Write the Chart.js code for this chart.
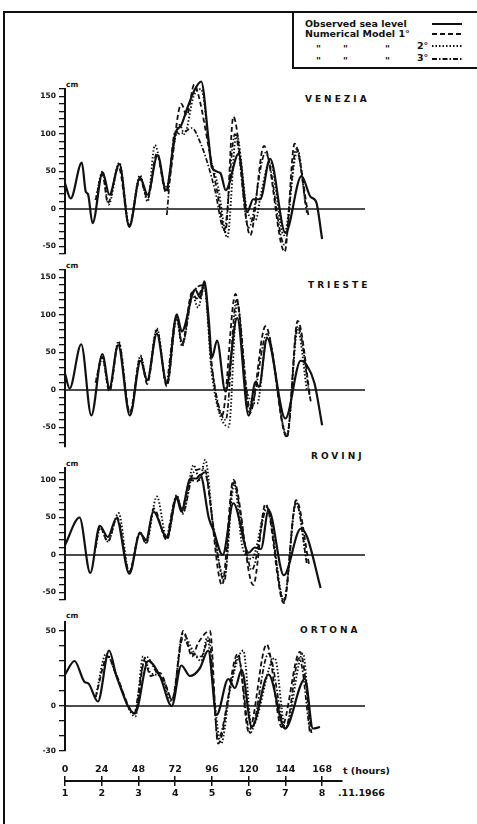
<!DOCTYPE html>
<html>
<head>
<meta charset="utf-8">
<script src="https://cdn.jsdelivr.net/npm/chart.js@4.4.1/dist/chart.umd.min.js"></script>
<style>
html,body{margin:0;padding:0;background:#fff;}
body{width:477px;height:824px;position:relative;overflow:hidden;font-family:"DejaVu Sans",sans-serif;font-weight:bold;color:#111;}
canvas{position:absolute;left:0;}
.t{position:absolute;white-space:nowrap;line-height:1;}
.stn{font-size:9px;letter-spacing:3px;}
.cm{font-size:7.5px;}
.lg{font-size:9.5px;}
.ln{position:absolute;background:#111;}
</style>
</head>
<body>
<!-- frame -->
<div class="ln" style="left:3px;top:11px;width:2px;height:813px;"></div>
<div class="ln" style="left:3px;top:11px;width:474px;height:2px;"></div>
<div class="ln" style="left:292px;top:11px;width:2px;height:58px;"></div>
<div class="ln" style="left:292px;top:67px;width:185px;height:2px;"></div>

<!-- legend -->
<div class="t lg" style="left:305px;top:19px;">Observed sea level</div>
<div class="t lg" style="left:305px;top:29px;">Numerical Model 1°</div>
<div class="t lg" style="left:316px;top:44px;">"</div>
<div class="t lg" style="left:343px;top:44px;">"</div>
<div class="t lg" style="left:385px;top:44px;">"</div>
<div class="t lg" style="left:417px;top:41px;">2°</div>
<div class="t lg" style="left:316px;top:56px;">"</div>
<div class="t lg" style="left:343px;top:56px;">"</div>
<div class="t lg" style="left:385px;top:56px;">"</div>
<div class="t lg" style="left:417px;top:53px;">3°</div>
<svg style="position:absolute;left:430px;top:18px;" width="34" height="46">
  <line x1="2" y1="6" x2="32" y2="6" stroke="#111" stroke-width="2"/>
  <line x1="2" y1="16" x2="32" y2="16" stroke="#111" stroke-width="1.8" stroke-dasharray="5 3"/>
  <line x1="2" y1="28" x2="32" y2="28" stroke="#111" stroke-width="1.8" stroke-dasharray="1.5 2"/>
  <line x1="2" y1="41" x2="32" y2="41" stroke="#111" stroke-width="1.8" stroke-dasharray="5 2 1.5 2"/>
</svg>

<!-- station names and units -->
<div class="t stn" style="left:305px;top:95px;">VENEZIA</div>
<div class="t stn" style="left:308px;top:281px;">TRIESTE</div>
<div class="t stn" style="left:311px;top:452px;">ROVINJ</div>
<div class="t stn" style="left:300px;top:626px;">ORTONA</div>
<div class="t cm" style="left:66px;top:81px;">cm</div>
<div class="t cm" style="left:66px;top:262px;">cm</div>
<div class="t cm" style="left:66px;top:460px;">cm</div>
<div class="t cm" style="left:66px;top:612px;">cm</div>

<div class="t lg" style="left:343px;top:766px;">t (hours)</div>
<div class="t lg" style="left:338px;top:788px;">.11.1966</div>

<canvas id="cVen"></canvas>
<canvas id="cTri"></canvas>
<canvas id="cRov"></canvas>
<canvas id="cOrt"></canvas>
<canvas id="cAxis"></canvas>

<script>
// ---------------- DATA (hours since 1.11.1966 00h, sea level in cm) ----------------
// VENEZIA
const venObsT = [0,3.7,11,13.6,15,18,24.6,29,35.5,42,49,54,60.5,66,72,76,80,85,89,93.8,96,101.5,105,113.5,119,123,127.5,134,144,154.5,160.5,164,168];
const venObsV = [34,14,62,23,20,-19,49,19,60,-24,42,19,72,25,100,112,135,160,170,92,55,48,25,74,-4,13,13,67,-32,44,16,10,-40];
const venM1T = [20,24.5,28,35,42,49,54,60,66,76,79.5,84.5,88,93.8,99.3,104.8,110,121,130,143.5,150,159];
const venM1V = [12,46,8,56,-22,40,14,74,22,140,125,166,145,83,25,-30,123,-35,84,-57,87,-8];
const venM2T = [20,24.5,28.5,35.5,42,49,54,58.7,66,72,75,78,84,89,95,100,106,112,119,124.5,128,134,143,152,157];
const venM2V = [12,50,6,62,-22,45,10,85,28,95,112,100,150,160,70,30,-38,100,-2,-15,20,64,-35,79,8];
const venM3T = [66.5,72,75,79,83,88.5,93,98,104,111,120,131,143.5,151,158];
const venM3V = [-8,103,100,104,108,88,62,25,-28,100,-25,75,-48,80,-5];
// TRIESTE
const triObsT = [0,3,10.6,17.2,24.4,29,34.7,42.4,49.4,53.7,60,66.5,73,76.3,85,88.4,91,94,96,99.3,104.8,112.5,120,124.5,126.7,132,144,154,158,163,168];
const triObsV = [22,2,61,-34,48,3,60,-34,39,13,75,9,101,78,134,123,145,92,43,66,-2,96,-34,11,4,69,-38,39,33,9,-47];
const triM1T = [20,24.4,29,35,42.4,49.4,53.7,60,66.5,73,76.5,83,86,91,96,102.6,111.4,120.8,131,145,152,160.6];
const triM1V = [10,44,-2,63,-30,44,8,80,5,98,62,130,122,140,30,-34,128,-31,85,-63,92,-16];
const triM2T = [20,24.4,29,35,42.4,49.4,53.7,60,66.5,73,76.5,83,87,91,96,107,112.5,118,125.6,132,145,152,158];
const triM2V = [10,42,0,65,-32,46,12,82,7,95,58,128,110,138,20,-49,118,5,-18,70,-60,80,0];
const triM3T = [66.5,73,76.5,83,91,96,105,112,121,132,145,152,160];
const triM3V = [8,97,60,125,140,30,-40,120,-25,75,-62,85,-10];
// ROVINJ
const rovObsT = [0,9.5,16.5,22.7,28,33.6,42,49,53,57.7,66.5,73,76,82,86,88.4,94,97,103,110,120,124,128,133,143,154,158,167];
const rovObsV = [13,50,-24,39,24,49,-25,29,20,58,24,76,58,102,102,107,49,33,0,69,3,10,8,60,-27,35,25,-44];
const rovM1T = [20,22.7,28,34,42,49,53,58,66.5,73,76,82,86,91,102.6,110,123,131,143,151,159.5];
const rovM1V = [10,38,18,50,-22,30,15,62,20,78,60,100,98,110,-40,100,-40,68,-64,73,-13];
const rovM2T = [20,23,28,35,42,49,53,60,66.5,73,77,84,88,91.6,97,104,110.5,116,122,132,143,151,158];
const rovM2V = [10,36,18,56,-24,30,16,78,22,80,55,120,100,127,35,-30,95,10,-5,64,-60,70,-10];
const rovM3T = [66.5,73,77,84,91,97,104,110,118,122,132,143,151,158];
const rovM3V = [22,78,57,110,115,38,-35,97,10,-20,62,-62,70,-12];
// ORTONA
const ortObsT = [0,6.2,12.8,15.3,21.5,28.8,33.6,45.7,54.4,62,69.7,76,81.7,88,93.6,99,106.7,111,115.4,122,133,143.7,156.8,162,166.6];
const ortObsV = [21,30,16,15,3,37,20,-5,30,20,0,27,20,25,37,-6,18,12,24,-14,21,-15,18,-15,-14];
const ortM1T = [20,28,33,45.7,52,56,62,70,77.3,83,87,94.7,100,113,120,131.8,141.5,153.5,161];
const ortM1V = [6,33,22,-5,30,20,22,5,50,33,42,50,-25,35,-17,41,-14,36,-18];
const ortM2T = [20,27,33,46,51,56,62,70,77,84,89,93,96,102,108,116.5,122,137,144,155.5,160];
const ortM2V = [6,35,22,-7,33,22,20,3,48,36,30,46,20,-25,12,37,-14,32,-15,35,-16];
const ortM3T = [45.7,53,60,65,70,77,84,89,94,100,108,113,121,133,144,153,160];
const ortM3V = [-5,33,22,16,4,45,34,33,45,-22,12,33,-18,35,-15,32,-18];

// tick labels
const venLabels = [150,100,50,0,-50];
const triLabels = [150,100,50,0,-50];
const rovLabels = [100,50,0,-50];
const ortLabels = [50,0,-30];
const hourTicks = [0,24,48,72,96,120,144,168];
const dayLabels = ['1','2','3','4','5','6','7','8'];

// ---------------- RENDERING ----------------
const INK = '#111';
const FONT = 'DejaVu Sans';
const X_MAX = 196;      // panel time range (zero line extends to it)
const AXIS_LEFT = 65;   // y-axis position in px
const PLOT_RIGHT = 365; // right end of plot area

function pts(T, V) { return T.map((t, i) => ({x: t, y: V[i]})); }

function series(T, V, style) {
  const base = {data: pts(T, V), borderColor: INK, pointRadius: 0, fill: false,
    cubicInterpolationMode: 'monotone', clip: false, borderCapStyle: 'butt'};
  if (style === 'obs') return Object.assign(base, {borderWidth: 2.2, order: 0});
  if (style === 'm1') return Object.assign(base, {borderWidth: 1.8, borderDash: [5, 3], order: 2});
  if (style === 'm2') return Object.assign(base, {borderWidth: 1.9, borderDash: [1.5, 2], order: 3});
  return Object.assign(base, {borderWidth: 1.7, borderDash: [5, 2, 1.5, 2], order: 1});
}

function panel(id, zeroY, pxPerCm, yMin, yMax, labels, sets) {
  const padT = 10, padB = 10, padR = 15;
  const areaTop = zeroY - yMax * pxPerCm;
  const areaH = (yMax - yMin) * pxPerCm;
  const cv = document.getElementById(id);
  cv.width = PLOT_RIGHT + padR;
  cv.height = Math.round(areaH + padT + padB);
  cv.style.top = (areaTop - padT) + 'px';
  const zero = {data: [{x: 0, y: 0}, {x: X_MAX, y: 0}], borderColor: INK, borderWidth: 1.6,
    pointRadius: 0, order: 5, tension: 0};
  new Chart(cv, {
    type: 'line',
    data: {datasets: [zero].concat(sets)},
    options: {
      responsive: false, animation: false, events: [],
      layout: {padding: {left: 0, right: padR, top: padT, bottom: padB}},
      plugins: {legend: {display: false}, tooltip: {enabled: false}},
      scales: {
        x: {type: 'linear', min: 0, max: X_MAX, display: false},
        y: {
          type: 'linear', min: yMin, max: yMax,
          afterFit: s => { s.width = AXIS_LEFT; },
          afterBuildTicks: s => {
            const tk = [];
            for (let v = Math.ceil(yMin / 10) * 10; v <= yMax; v += 10) tk.push({value: v});
            s.ticks = tk;
          },
          ticks: {stepSize: 10, autoSkip: false, padding: 3, color: INK,
            font: {family: FONT, weight: 'bold', size: 7.5},
            callback: v => labels.indexOf(v) >= 0 ? String(v) : ''},
          grid: {drawOnChartArea: false, drawTicks: true, tickLength: 6, color: INK, lineWidth: 1.3},
          border: {display: true, color: INK, width: 2}
        }
      }
    }
  });
}

panel('cVen', 209, 0.75, -60, 160, venLabels, [
  series(venObsT, venObsV, 'obs'), series(venM1T, venM1V, 'm1'),
  series(venM2T, venM2V, 'm2'), series(venM3T, venM3V, 'm3')]);
panel('cTri', 390, 0.75, -76, 160, triLabels, [
  series(triObsT, triObsV, 'obs'), series(triM1T, triM1V, 'm1'),
  series(triM2T, triM2V, 'm2'), series(triM3T, triM3V, 'm3')]);
panel('cRov', 555, 0.75, -60, 116, rovLabels, [
  series(rovObsT, rovObsV, 'obs'), series(rovM1T, rovM1V, 'm1'),
  series(rovM2T, rovM2V, 'm2'), series(rovM3T, rovM3V, 'm3')]);
panel('cOrt', 706, 1.5, -30, 56, ortLabels, [
  series(ortObsT, ortObsV, 'obs'), series(ortM1T, ortM1V, 'm1'),
  series(ortM2T, ortM2V, 'm2'), series(ortM3T, ortM3V, 'm3')]);

// time axis: hours above the line, days of November 1966 below
(function () {
  const tMax = 181;
  const pxPerH = (PLOT_RIGHT - AXIS_LEFT) / X_MAX;
  const right = AXIS_LEFT + tMax * pxPerH;
  const cv = document.getElementById('cAxis');
  const padR = 10;
  cv.width = Math.round(right + padR);
  cv.height = 45;
  cv.style.top = '756px';
  const keep = s => { s.ticks = hourTicks.map(v => ({value: v})); };
  const f = {family: FONT, weight: 'bold', size: 9.5};
  new Chart(cv, {
    type: 'line',
    data: {datasets: []},
    options: {
      responsive: false, animation: false, events: [],
      layout: {padding: {left: AXIS_LEFT, right: cv.width - right, top: 0, bottom: 0}},
      plugins: {legend: {display: false}, tooltip: {enabled: false}},
      scales: {
        x: {type: 'linear', position: 'bottom', min: 0, max: tMax,
          afterFit: s => { s.height = 20; }, afterBuildTicks: keep,
          ticks: {stepSize: 24, autoSkip: false, maxRotation: 0, padding: 2, color: INK, font: f,
            callback: v => dayLabels[hourTicks.indexOf(v)]},
          grid: {drawOnChartArea: true, drawTicks: true, tickLength: 5, color: INK, lineWidth: 1.5},
          border: {display: true, color: INK, width: 2}},
        xh: {type: 'linear', position: 'top', min: 0, max: tMax,
          afterFit: s => { s.height = 20; }, afterBuildTicks: keep,
          ticks: {stepSize: 24, autoSkip: false, maxRotation: 0, padding: 1, color: INK, font: f,
            callback: v => String(v)},
          grid: {display: false, drawTicks: false}, border: {display: false}},
        y: {display: false, min: 0, max: 1}
      }
    }
  });
})();
</script>
</body>
</html>
